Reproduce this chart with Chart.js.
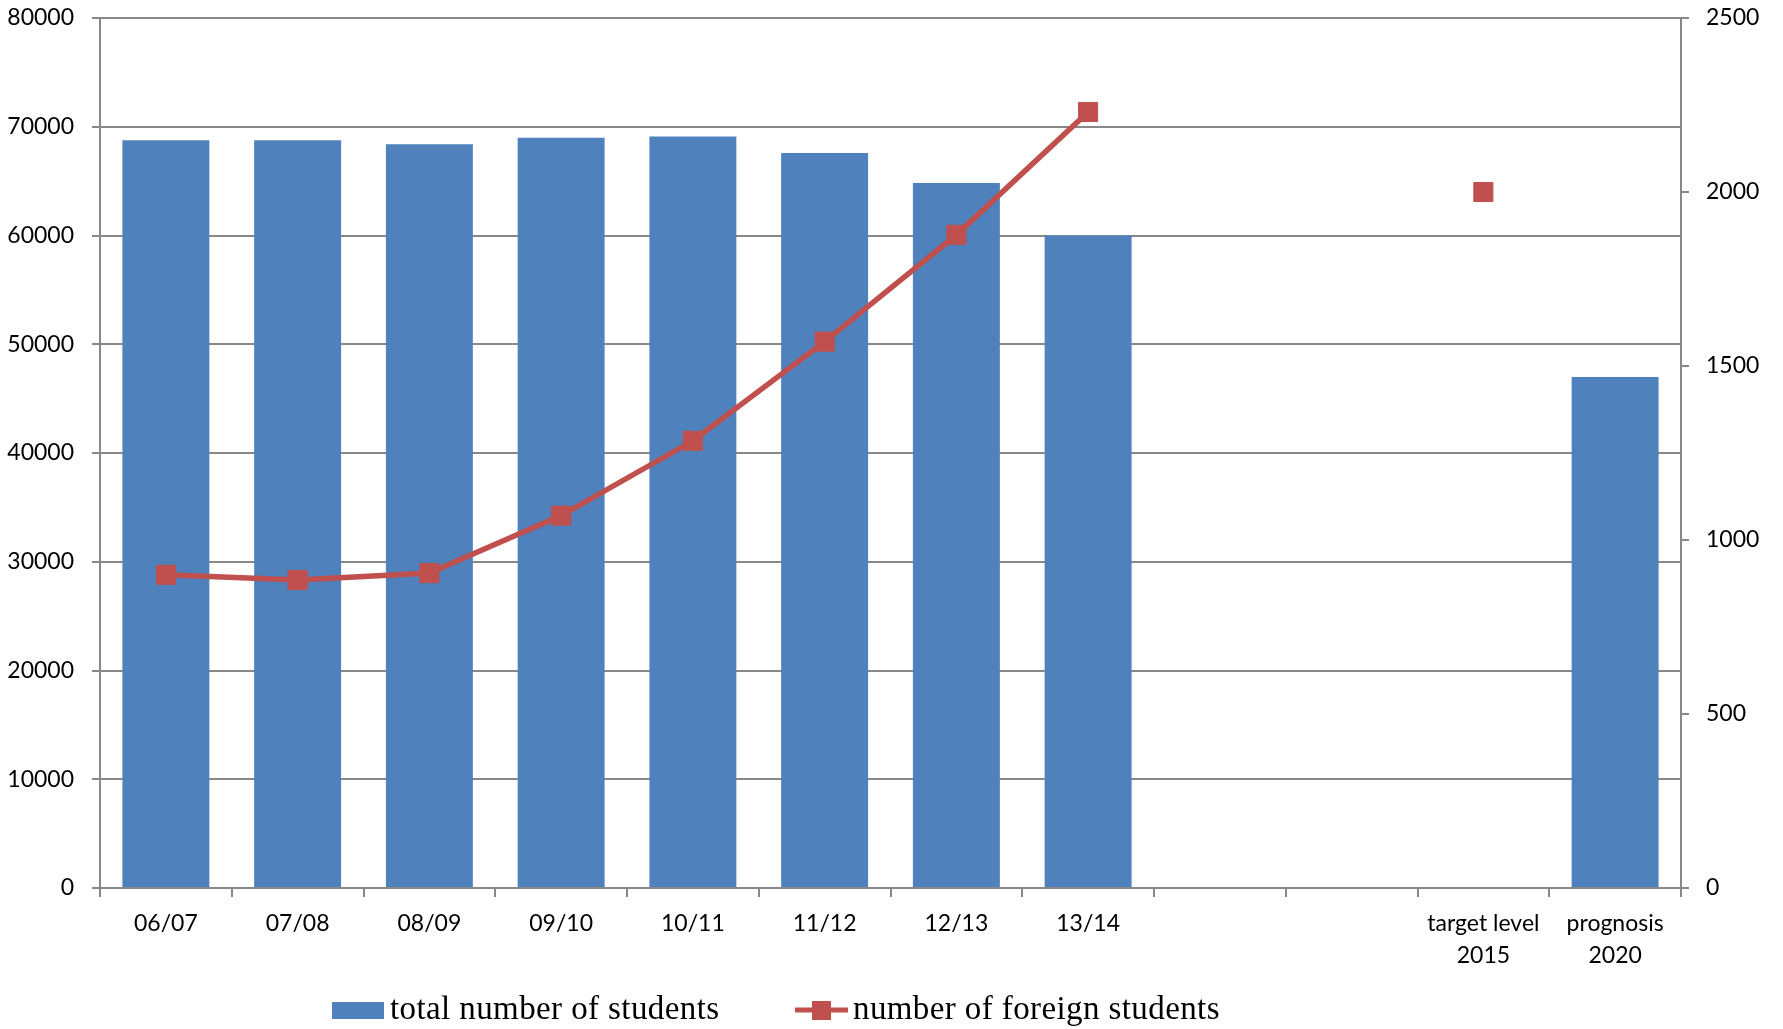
<!DOCTYPE html>
<html>
<head>
<meta charset="utf-8">
<script src="https://cdn.jsdelivr.net/npm/chart.js@4"></script>
<style>
  body { margin: 0; background: #fff; }
  #wrap { width: 1783px; height: 1029px; }
</style>
</head>
<body>
<div id="wrap"><canvas id="studentsChart"></canvas></div>
<script>
// data
const categories = ['06/07', '07/08', '08/09', '09/10', '10/11', '11/12', '12/13', '13/14', '', '',
    ['target level', '2015'], ['prognosis', '2020']];
const totalStudents = [68750, 68750, 68380, 68990, 69110, 67580, 64820, 60000, null, null, null, 47000];
const foreignStudents = [900, 885, 905, 1070, 1285, 1570, 1877, 2230, null, null, 2000, null];
const leftAxis = { max: 80000, step: 10000 };
const rightAxis = { max: 2500, step: 500 };

const barColor = '#4F81BD';
const lineColor = '#C0504D';
const gridColor = '#888888';
const tickFont = { family: 'Lato', size: 23, lineHeight: 1.42 };

// legend drawn under the plot, like the original
const bottomLegend = {
    id: 'bottomLegend',
    afterDraw(chart) {
        const ctx = chart.ctx;
        const base = 1019;
        const mid = 1010;
        ctx.save();
        ctx.font = '33px "Liberation Serif"';
        ctx.letterSpacing = '0.4px';
        ctx.textBaseline = 'alphabetic';

        // bars
        ctx.fillStyle = barColor;
        ctx.fillRect(332, mid - 8, 52, 17);
        ctx.fillStyle = '#000';
        ctx.fillText(chart.data.datasets[1].label, 390, base);

        // line with marker
        ctx.strokeStyle = lineColor;
        ctx.lineWidth = 5;
        ctx.beginPath();
        ctx.moveTo(795, mid);
        ctx.lineTo(848, mid);
        ctx.stroke();
        ctx.fillStyle = lineColor;
        ctx.fillRect(812, mid - 9, 19, 19);
        ctx.fillStyle = '#000';
        ctx.fillText(chart.data.datasets[0].label, 853, base);
        ctx.restore();
    }
};

const plainNumber = v => String(v);

// fixed axis width, and no extra room above/below for the end labels
function fixWidth(w) {
    return scale => {
        scale.width = w;
        scale.paddingTop = 0;
        scale.paddingBottom = 0;
    };
}

const ctx = document.getElementById('studentsChart').getContext('2d');
const studentsChart = new Chart(ctx, {
    data: {
        labels: categories,
        datasets: [{
            type: 'line',
            label: 'number of foreign students',
            data: foreignStudents,
            yAxisID: 'y2',
            borderColor: lineColor,
            backgroundColor: lineColor,
            borderWidth: 5.5,
            pointStyle: 'rect',
            pointRadius: 13.5,
            pointBorderWidth: 1,
            pointBackgroundColor: lineColor,
            pointBorderColor: lineColor,
            spanGaps: false,
            tension: 0,
            order: 0
        }, {
            type: 'bar',
            label: 'total number of students',
            data: totalStudents,
            yAxisID: 'y',
            backgroundColor: barColor,
            borderWidth: 0,
            barPercentage: 0.66,
            categoryPercentage: 1,
            order: 1
        }]
    },
    options: {
        responsive: true,
        maintainAspectRatio: false,
        animation: false,
        layout: { padding: { top: 18, bottom: 61, left: 0, right: 0 } },
        plugins: {
            legend: { display: false },
            tooltip: { enabled: false }
        },
        scales: {
            x: {
                offset: true,
                afterFit(scale) { scale.height = 80; },
                border: { color: gridColor, width: 2 },
                grid: {
                    offset: true,
                    drawOnChartArea: false,
                    drawTicks: true,
                    tickLength: 9,
                    color: gridColor,
                    lineWidth: 2
                },
                ticks: {
                    color: '#000',
                    font: tickFont,
                    padding: 10,
                    maxRotation: 0,
                    autoSkip: false
                }
            },
            y: {
                position: 'left',
                min: 0,
                max: leftAxis.max,
                afterFit: fixWidth(100),
                border: { color: gridColor, width: 2 },
                grid: {
                    color: gridColor,
                    lineWidth: 2,
                    tickLength: 8
                },
                ticks: {
                    stepSize: leftAxis.step,
                    color: '#000',
                    font: tickFont,
                    padding: 18,
                    callback: plainNumber
                }
            },
            y2: {
                position: 'right',
                min: 0,
                max: rightAxis.max,
                afterFit: fixWidth(102),
                border: { color: gridColor, width: 2 },
                grid: {
                    drawOnChartArea: false,
                    color: gridColor,
                    lineWidth: 2,
                    tickLength: 8
                },
                ticks: {
                    stepSize: rightAxis.step,
                    color: '#000',
                    font: tickFont,
                    padding: 17,
                    callback: plainNumber
                }
            }
        }
    },
    plugins: [bottomLegend]
});
</script>
</body>
</html>
